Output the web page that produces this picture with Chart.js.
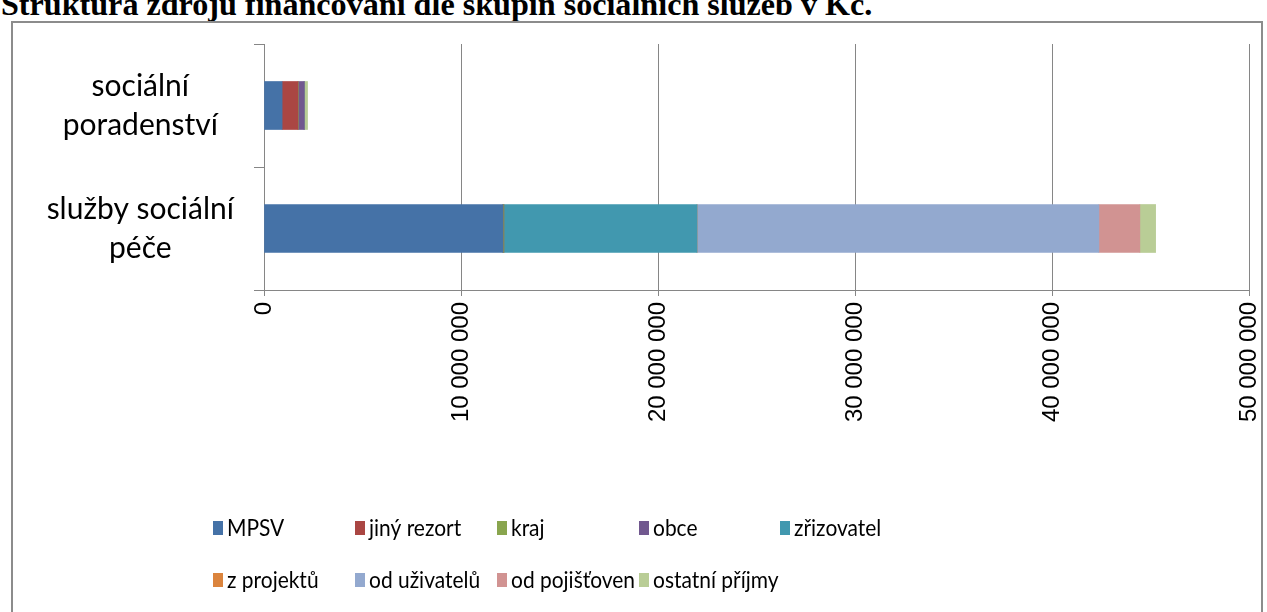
<!DOCTYPE html>
<html>
<head>
<meta charset="utf-8">
<script src="https://cdn.jsdelivr.net/npm/chart.js@4"></script>
<style>
  html, body { margin: 0; padding: 0; background: #fff; overflow: hidden; }
  body { width: 1267px; height: 612px; position: relative; }
  #title {
    position: absolute; left: 1px; top: 0; margin: 0;
    font-family: "Liberation Serif", "Times New Roman", serif;
    font-weight: bold; white-space: nowrap; line-height: 1;
  }
  #frame {
    position: absolute; left: 11px; top: 21px; width: 1252px; height: 640px;
    border: 2px solid #8c8c8c; box-sizing: border-box;
  }
  #wrap { position: absolute; left: 13px; top: 13px; width: 1250px; height: 599px; }
</style>
</head>
<body>
<div id="title">Struktura zdrojů financování dle skupin sociálních služeb v Kč.</div>
<div id="frame"></div>
<div id="wrap"><canvas id="grafico"></canvas></div>
<script>
// kategorie (skupiny služeb)
const kategorie = [["sociální", "poradenství"], ["služby sociální", "péče"]];

// zdroje financování, hodnoty v Kč: [sociální poradenství, služby sociální péče]
const zdroje = ["MPSV", "jiný rezort", "kraj", "obce", "zřizovatel",
  "z projektů", "od uživatelů", "od pojišťoven", "ostatní příjmy"];
const mpsv = [920000, 12130000];
const jinyRezort = [800000, 0];
const kraj = [20000, 50000];
const obce = [300000, 0];
const zrizovatel = [0, 9800000];
const zProjektu = [0, 0];
const odUzivatelu = [0, 20400000];
const odPojistoven = [0, 2080000];
const ostatni = [170000, 800000];

const xTicks = [0, 10000000, 20000000, 30000000, 40000000, 50000000];

const barvy = ["#4572a7", "#aa4643", "#89a54e", "#71588f", "#4198af",
  "#db843d", "#93a9cf", "#d19392", "#b9cd96"];

const hodnoty = [mpsv, jinyRezort, kraj, obce, zrizovatel, zProjektu, odUzivatelu, odPojistoven, ostatni];

// velikost písma podle šířky textu v předloze
const mctx = document.createElement("canvas").getContext("2d");
function textWidth(font, text) {
  mctx.font = font;
  return mctx.measureText(text).width;
}

const titleEl = document.getElementById("title");
const tSize = 100 * 872 / textWidth('bold 100px "Liberation Serif"', titleEl.textContent);
titleEl.style.fontSize = tSize + "px";
titleEl.style.top = (15 - 0.84 * tSize) + "px";

const yFont = Math.min(30, 100 * 190 / textWidth("100px Lato", "služby sociální"));

// legenda: užší písmo jako Calibri -> vodorovně stlačit
const legFont = "24px Lato";
const legScale = Math.min(1, 124 / textWidth(legFont, "od pojišťoven"));

function fmt(v) {
  return String(v).replace(/\B(?=(\d{3})+(?!\d))/g, " ");
}

// legenda v pevných sloupcích jako v Excelu
const sloupce = [200, 342, 484, 626, 767];
const radky = [515, 567];
const legendaPlugin = {
  id: "legendaSloupce",
  afterDraw(chart) {
    const ctx = chart.ctx;
    zdroje.forEach((nazev, i) => {
      const x = sloupce[i % 5];
      const y = radky[Math.floor(i / 5)];
      ctx.save();
      ctx.fillStyle = barvy[i];
      ctx.fillRect(x, y - 7, 10, 14);
      ctx.translate(x + 14, y);
      ctx.scale(legScale, 1);
      ctx.font = legFont;
      ctx.textBaseline = "middle";
      ctx.textAlign = "left";
      ctx.fillStyle = "#000";
      ctx.fillText(nazev, 0, 0);
      ctx.restore();
    });
  }
};

new Chart(document.getElementById("grafico"), {
  type: "bar",
  data: {
    labels: kategorie,
    datasets: zdroje.map((nazev, i) => ({
      label: nazev,
      data: hodnoty[i],
      backgroundColor: barvy[i],
      borderWidth: 0,
      barThickness: 48
    }))
  },
  options: {
    indexAxis: "y",
    responsive: true,
    maintainAspectRatio: false,
    animation: false,
    layout: { padding: { top: 31, right: 14, left: 0, bottom: 0 } },
    plugins: {
      legend: { display: false },
      tooltip: { enabled: false }
    },
    scales: {
      x: {
        stacked: true,
        min: 0,
        max: 50000000,
        afterFit(scale) {
          scale.height = 322;
          scale.paddingLeft = 0;
          scale.paddingRight = 0;
        },
        afterBuildTicks(scale) { scale.ticks = xTicks.map(v => ({ value: v })); },
        grid: { color: "#868686", lineWidth: 1, tickLength: 6, drawTicks: true },
        border: { color: "#868686" },
        ticks: {
          minRotation: 90,
          maxRotation: 90,
          padding: 6,
          color: "#000",
          font: { family: '"Liberation Sans", Arial', size: 24 },
          callback: v => fmt(v)
        }
      },
      y: {
        stacked: true,
        afterFit(scale) {
          scale.width = 251;
          scale.paddingTop = 0;
          scale.paddingBottom = 0;
        },
        grid: { drawOnChartArea: false, color: "#868686", tickLength: 10, offset: true },
        border: { color: "#868686" },
        ticks: {
          crossAlign: "center",
          padding: 20,
          color: "#000",
          font: { family: "Lato", size: yFont, lineHeight: 1.3 }
        }
      }
    }
  },
  plugins: [legendaPlugin]
});
</script>
</body>
</html>
